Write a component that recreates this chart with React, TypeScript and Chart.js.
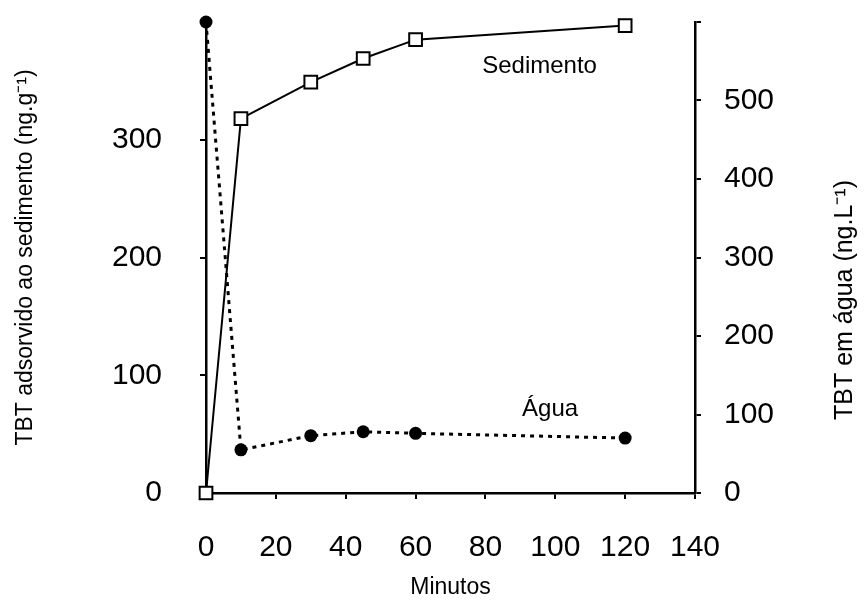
import React, { useEffect, useRef } from "react";
import { Chart, registerables } from "chart.js";

Chart.register(...registerables);

const minutes = [0, 10, 30, 45, 60, 120];
const sedimentValues = [0, 318, 349, 369, 385, 397];
const waterValues = [600, 55, 73, 78, 76, 70];
const xTicksMax = 140;
const leftMax = 400;
const rightMax = 600;

const leftTitle = "TBT adsorvido ao sedimento (ng.g\u207B\u00B9)";
const rightTitle = "TBT em \u00E1gua (ng.L\u207B\u00B9)";
const xTitle = "Minutos";
const seriesLabels = ["Sedimento", "\u00C1gua"];

const FONT = '"Liberation Sans", Arial, sans-serif';

const noPad = (s: any) => {
  s.paddingTop = 0;
  s.paddingBottom = 0;
  s.paddingLeft = 0;
  s.paddingRight = 0;
};

const textPlugin = {
  id: "textPlugin",
  afterDraw(chart: any) {
    const { ctx, scales } = chart;
    const x = scales.x, y = scales.y, y1 = scales.y1;
    ctx.save();
    ctx.fillStyle = "#000";
    ctx.font = `24px ${FONT}`;
    ctx.textAlign = "center";
    ctx.textBaseline = "middle";
    ctx.fillText(seriesLabels[0], x.getPixelForValue(95.5), y.getPixelForValue(362));
    ctx.fillText(seriesLabels[1], x.getPixelForValue(98.5), y1.getPixelForValue(106));
    ctx.font = `25px ${FONT}`;
    ctx.translate(y1.right - 19, 300);
    ctx.rotate(-Math.PI / 2);
    ctx.fillText(rightTitle, 0, 0);
    ctx.restore();
  },
};

export default function App() {
  const ref = useRef<HTMLCanvasElement | null>(null);
  useEffect(() => {
    if (!ref.current) return;
    const chart = new Chart(ref.current, {
      type: "line",
      data: {
        datasets: [
          {
            label: seriesLabels[0],
            data: minutes.map((m, i) => ({ x: m, y: sedimentValues[i] })),
            yAxisID: "y",
            borderColor: "#000",
            borderWidth: 2,
            pointStyle: "rect",
            pointRadius: 9,
            pointBorderWidth: 2,
            pointBackgroundColor: "#fff",
            pointBorderColor: "#000",
            clip: false as any,
            order: 1,
          },
          {
            label: seriesLabels[1],
            data: minutes.map((m, i) => ({ x: m, y: waterValues[i] })),
            yAxisID: "y1",
            borderColor: "#000",
            borderWidth: 3,
            borderDash: [4, 5],
            pointStyle: "circle",
            pointRadius: 6.5,
            pointBorderWidth: 0,
            pointBackgroundColor: "#000",
            pointBorderColor: "#000",
            clip: false as any,
            order: 2,
          },
        ],
      },
      options: {
        responsive: false,
        animation: false,
        layout: { padding: { top: 22, left: 0, right: 0, bottom: 0 } },
        plugins: { legend: { display: false }, tooltip: { enabled: false } },
        scales: {
          x: {
            type: "linear",
            min: 0,
            max: xTicksMax,
            afterFit: (s: any) => { s.height = 108; noPad(s); },
            ticks: { stepSize: 20, color: "#000", font: { family: FONT, size: 30 }, padding: 31, maxRotation: 0 },
            grid: { drawOnChartArea: false, drawTicks: true, tickLength: 6, color: "#000", lineWidth: 2 },
            border: { display: true, color: "#000", width: 2.5 },
            title: { display: true, text: xTitle, color: "#000", font: { family: FONT, size: 23 }, padding: { top: 0, bottom: 0 } },
          },
          y: {
            type: "linear",
            position: "left",
            min: 0,
            max: leftMax,
            afterFit: (s: any) => { s.width = 206; noPad(s); },
            ticks: {
              stepSize: 100,
              color: "#000",
              font: { family: FONT, size: 30 },
              padding: 38,
              callback: (v: any) => (v === leftMax ? "" : v),
            },
            grid: {
              drawOnChartArea: false,
              drawTicks: true,
              tickLength: 6,
              lineWidth: 2,
              color: (c: any) => (c.tick && c.tick.value === leftMax ? "rgba(0,0,0,0)" : "#000"),
            },
            border: { display: true, color: "#000", width: 2.5 },
            title: { display: true, text: leftTitle, color: "#000", font: { family: FONT, size: 23 }, padding: { top: 12, bottom: 0 } },
          },
          y1: {
            type: "linear",
            position: "right",
            min: 0,
            max: rightMax,
            afterFit: (s: any) => { s.width = 169; noPad(s); },
            ticks: {
              stepSize: 100,
              color: "#000",
              font: { family: FONT, size: 30 },
              padding: 23,
              callback: (v: any) => (v === rightMax ? "" : v),
            },
            grid: { drawOnChartArea: false, drawTicks: true, tickLength: 6, color: "#000", lineWidth: 2 },
            border: { display: true, color: "#000", width: 2.5 },
          },
        },
      },
      plugins: [textPlugin],
    });
    return () => chart.destroy();
  }, []);
  return (
    <div style={{ position: "absolute", left: 0, top: 0, width: 864, height: 601, background: "#fff" }}>
      <canvas ref={ref} width={864} height={601} style={{ width: 864, height: 601, display: "block" }} />
    </div>
  );
}
